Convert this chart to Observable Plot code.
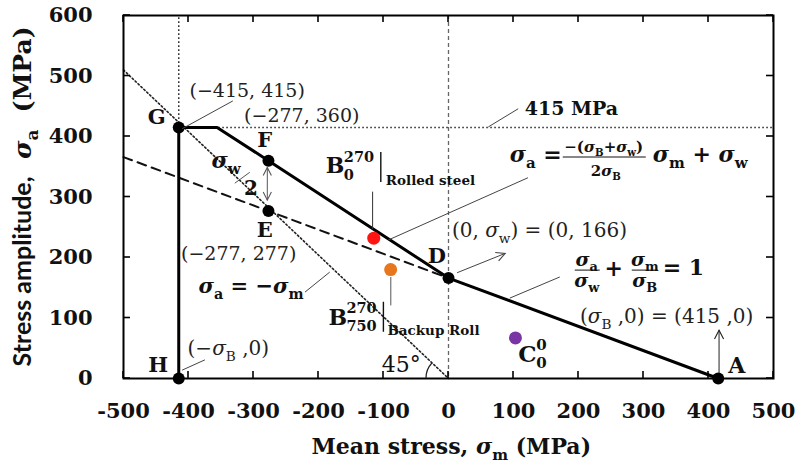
<!DOCTYPE html>
<html><head><meta charset="utf-8">
<script src="https://cdn.jsdelivr.net/npm/d3@7"></script>
<script src="https://cdn.jsdelivr.net/npm/@observablehq/plot@0.6"></script>
<style>body{margin:0;background:#fff}</style>
</head><body>
<script>
const SERIF = "DejaVu Serif";
const SANS = "Lato";

// ---- data ----
const xTicks = [-500, -400, -300, -200, -100, 0, 100, 200, 300, 400, 500];
const yTicks = [0, 100, 200, 300, 400, 500, 600];
const sigmaB = 415, sigmaW = 166, yieldAmp = 415;

const keyNames = ["G", "F", "E", "D", "A", "H"];
const keyMean  = [-415, -277, -277, 0, 415, -415];
const keyAmp   = [415, 360, 277, 166, 0, 0];

const envMean = [-415, -415, -356, -277, 0, 415];
const envAmp  = [0, 415, 415, 360, 166, 0];

const halfMean = [-500, 0];
const halfAmp  = [366, 166];

const diagMean = [-500, 0];
const diagAmp  = [510, 0];

const specNames = ["B0^270 Rolled steel", "B750^270 Backup Roll", "C0^0"];
const specMean  = [-115, -89, 103];
const specAmp   = [232, 180, 67];
const specColor = ["#ff1414", "#e8761c", "#7a35a5"];

const keyPts = keyNames.map((n, i) => ({n, m: keyMean[i], a: keyAmp[i]}));
const envelope = envMean.map((m, i) => ({m, a: envAmp[i]}));
const halfLine = halfMean.map((m, i) => ({m, a: halfAmp[i]}));
const diagLine = diagMean.map((m, i) => ({m, a: diagAmp[i]}));
const specs = specNames.map((n, i) => ({n, m: specMean[i], a: specAmp[i], c: specColor[i]}));

// ---- helpers ----
const sg = {t: "σ", it: true};
const sub = t => ({t, sub: true});

function txt(g, x, y, parts, o = {}) {
  const size = o.size || 20;
  const t = g.append("text").attr("x", x).attr("y", y)
    .attr("font-family", o.family || SERIF).attr("font-size", size)
    .attr("font-weight", o.weight || "bold").attr("fill", o.fill || "#111")
    .attr("text-anchor", o.anchor || "start");
  let shift = 0;
  for (const p of parts) {
    const s = typeof p === "string" ? {t: p} : p;
    const target = s.sub ? size * 0.28 : s.sup ? -size * 0.42 : 0;
    const ts = t.append("tspan").text(s.t);
    if (target - shift) ts.attr("dy", target - shift);
    if (s.sub || s.sup) ts.attr("font-size", size * 0.68);
    if (s.it) ts.attr("font-style", "italic");
    if (s.family) ts.attr("font-family", s.family);
    shift = target;
  }
  return t;
}
function seg(g, x1, y1, x2, y2, o = {}) {
  return g.append("line").attr("x1", x1).attr("y1", y1).attr("x2", x2).attr("y2", y2)
    .attr("stroke", o.stroke || "#444").attr("stroke-width", o.width || 1);
}
function head(g, x1, y1, x2, y2, o) {
  const L = o.head || 10, ang = (o.angle || 27) * Math.PI / 180;
  const th = Math.atan2(y2 - y1, x2 - x1);
  const p = [[x2 - L * Math.cos(th - ang), y2 - L * Math.sin(th - ang)], [x2, y2],
             [x2 - L * Math.cos(th + ang), y2 - L * Math.sin(th + ang)]];
  g.append("path").attr("d", "M" + p.join("L")).attr("fill", "none")
    .attr("stroke", o.stroke || "#333").attr("stroke-width", o.width || 1.1);
}
function arrow(g, x1, y1, x2, y2, o = {}) {
  seg(g, x1, y1, x2, y2, o);
  head(g, x1, y1, x2, y2, o);
  if (o.both) head(g, x2, y2, x1, y1, o);
}

function ticks(index, {x: X, y: Y}) {
  const g = d3.create("svg:g");
  for (const v of xTicks) {
    seg(g, X(v), Y(0), X(v), Y(0) - 7, {stroke: "#000", width: 1.6});
    seg(g, X(v), Y(600), X(v), Y(600) + 7, {stroke: "#000", width: 1.6});
  }
  for (const v of yTicks) {
    seg(g, X(-500), Y(v), X(-500) + 7, Y(v), {stroke: "#000", width: 1.6});
    seg(g, X(500), Y(v), X(500) - 7, Y(v), {stroke: "#000", width: 1.6});
  }
  return g.node();
}

function annotations(index, {x: X, y: Y}, values, dim) {
  const g = d3.create("svg:g");
  const at = (m, a) => [X(m), Y(a)];
  const L = (p, q, o) => seg(g, p[0], p[1], q[0], q[1], o);

  // G
  txt(g, X(-448), Y(420), ["G"], {anchor: "middle", size: 21});
  txt(g, X(-309), Y(464), ["(−415, 415)"], {anchor: "middle", size: 19, weight: "normal", fill: "#222"});
  L(at(-409, 412), at(-331, 458));
  txt(g, X(-225), Y(423), ["(−277, 360)"], {anchor: "middle", size: 19, weight: "normal", fill: "#222"});
  // F, E
  txt(g, X(-282), Y(382), ["F"], {anchor: "middle", size: 21});
  txt(g, X(-282), Y(233), ["E"], {anchor: "middle", size: 21});
  txt(g, X(-322), Y(195), ["(−277, 277)"], {anchor: "middle", size: 19, weight: "normal", fill: "#222"});
  // sigma_w / 2
  txt(g, X(-364), Y(347), [sg, sub("w")], {size: 22});
  L(at(-328, 322), at(-305, 340), {stroke: "#555"});
  txt(g, X(-303), Y(302), ["2"], {anchor: "middle", size: 20});
  arrow(g, X(-278), Y(348), X(-278), Y(294), {both: true, stroke: "#555", head: 9});
  // sigma_a = -sigma_m
  txt(g, X(-303), Y(140), [sg, sub("a"), " = −", sg, sub("m")], {anchor: "middle", size: 21});
  L(at(-220, 142), at(-182, 175));
  // B0^270 | Rolled steel
  {
    const [bx, by] = at(-188, 339);
    txt(g, bx, by, ["B"], {size: 22});
    txt(g, bx + 18, by - 11, ["270"], {size: 14.5});
    txt(g, bx + 18, by + 7, ["0"], {size: 14.5});
    seg(g, bx + 55, by - 21, bx + 55, by + 9, {stroke: "#111", width: 1.4});
    txt(g, bx + 60, by + 12, ["Rolled steel"], {size: 13.5});
    L(at(-116, 308), at(-116, 246), {stroke: "#333"});
  }
  // equation 1
  {
    const [x0, y0] = at(95, 357);
    txt(g, x0, y0, [sg, sub("a"), " ="], {size: 22});
    txt(g, x0 + 94, y0 - 10, ["−(", sg, sub("B"), "+", sg, sub("w"), ")"], {anchor: "middle", size: 15});
    seg(g, x0 + 53, y0 - 5, x0 + 136, y0 - 5, {stroke: "#111", width: 1});
    txt(g, x0 + 96, y0 + 14, ["2", sg, sub("B")], {anchor: "middle", size: 15});
    txt(g, x0 + 143, y0, [sg, sub("m"), " + ", sg, sub("w")], {size: 22});
    L(at(123, 331), at(-92, 228));
  }
  // 415 MPa
  txt(g, X(118), Y(435), ["415 MPa"], {size: 19});
  L(at(62, 415), at(108, 445));
  // (0, sigma_w) = (0, 166)
  txt(g, X(6), Y(233), ["(0, ", sg, sub("w"), ") = (0, 166)"], {size: 20, weight: "normal", fill: "#222"});
  arrow(g, X(14), Y(174), X(88), Y(206), {stroke: "#444"});
  txt(g, X(-17), Y(190), ["D"], {anchor: "middle", size: 21});
  // equation 2
  {
    const [x0, y0] = at(195, 180);
    txt(g, x0 + 12, y0 - 3, [sg, sub("a")], {anchor: "middle", size: 19});
    seg(g, x0, y0 + 1, x0 + 25, y0 + 1, {stroke: "#111"});
    txt(g, x0 + 12, y0 + 18, [sg, sub("w")], {anchor: "middle", size: 19});
    txt(g, x0 + 39, y0 + 7, ["+"], {anchor: "middle", size: 22});
    txt(g, x0 + 70, y0 - 3, [sg, sub("m")], {anchor: "middle", size: 19});
    seg(g, x0 + 57, y0 + 1, x0 + 83, y0 + 1, {stroke: "#111"});
    txt(g, x0 + 70, y0 + 18, [sg, sub("B")], {anchor: "middle", size: 19});
    txt(g, x0 + 88, y0 + 6, ["= 1"], {size: 22});
    L(at(95, 132), at(172, 167));
  }
  // (sigma_B, 0) = (415, 0)
  txt(g, X(203), Y(91), ["(", sg, sub("B"), " ,0) = (415 ,0)"], {size: 20, weight: "normal", fill: "#222"});
  arrow(g, X(417), Y(8), X(417), Y(79), {stroke: "#222"});
  txt(g, X(431), Y(8), ["A"], {size: 22});
  // C0^0
  {
    const [cx, cy] = at(108, 26);
    txt(g, cx, cy, ["C"], {size: 23});
    txt(g, cx + 18, cy - 12, ["0"], {size: 15});
    txt(g, cx + 18, cy + 6, ["0"], {size: 15});
  }
  // B750^270 | Backup Roll
  {
    const [bx, by] = at(-184, 88);
    txt(g, bx, by, ["B"], {size: 22});
    txt(g, bx + 18, by - 12, ["270"], {size: 14.5});
    txt(g, bx + 18, by + 6, ["750"], {size: 14.5});
    seg(g, bx + 55, by - 23, bx + 55, by + 7, {stroke: "#111", width: 1.4});
    txt(g, bx + 59, by + 10, ["Backup Roll"], {size: 13.5});
    L(at(-88, 167), at(-88, 120), {stroke: "#555"});
  }
  // 45 degrees
  txt(g, X(-102), Y(10), ["45°"], {size: 22, weight: "normal"});
  {
    const ox = X(0), oy = Y(0), r = 22;
    const dx = X(-100) - ox, dy = Y(100) - oy, len = Math.hypot(dx, dy);
    g.append("path").attr("d", `M${ox - r},${oy}A${r},${r} 0 0 1 ${ox + r * dx / len},${oy + r * dy / len}`)
      .attr("fill", "none").attr("stroke", "#222").attr("stroke-width", 1.2);
  }
  // H
  txt(g, X(-446), Y(10), ["H"], {anchor: "middle", size: 21});
  txt(g, X(-338), Y(38), ["(−", sg, sub("B"), " ,0)"], {anchor: "middle", size: 20, weight: "normal", fill: "#222"});
  L(at(-409, 13), at(-374, 30));

  // axis titles
  txt(g, X(5), dim.height - 14, ["Mean stress, ", sg, sub("m"), " (MPa)"], {anchor: "middle", size: 22});
  const yt = g.append("g").attr("transform", `translate(31,${Y(300)})rotate(-90)`);
  txt(yt, 0, 0, [{t: "Stress amplitude,", family: SANS}, "  ", sg, sub("a"), "  (MPa)"], {anchor: "middle", size: 25});
  return g.node();
}

const chart = Plot.plot({
  width: 798,
  height: 468,
  marginLeft: 123,
  marginRight: 25,
  marginTop: 15,
  marginBottom: 90,
  x: {domain: [-500, 500]},
  y: {domain: [0, 600]},
  color: {type: "identity"},
  style: {fontFamily: SERIF, fontSize: "21px", fontWeight: "bold", color: "#111", background: "#fff"},
  marks: [
    Plot.axisX({ticks: xTicks, tickSize: 0, tickPadding: 25, tickFormat: d => String(d), label: null, fontSize: 21, fontWeight: "bold"}),
    Plot.axisY({ticks: yTicks, tickSize: 0, tickPadding: 31, tickFormat: d => String(d), label: null, fontSize: 21, fontWeight: "bold"}),
    Plot.ruleX([0], {stroke: "#666", strokeWidth: 1.3, strokeDasharray: "4,3"}),
    Plot.ruleX([-sigmaB], {y1: yieldAmp, y2: 600, stroke: "#333", strokeWidth: 1.5, strokeDasharray: "1.6,2.4"}),
    Plot.ruleY([yieldAmp], {x1: -sigmaB, x2: 500, stroke: "#333", strokeWidth: 1.5, strokeDasharray: "1.6,2.4"}),
    Plot.line(diagLine, {x: "m", y: "a", stroke: "#222", strokeWidth: 1.6, strokeDasharray: "1.6,2.4"}),
    Plot.line(halfLine, {x: "m", y: "a", stroke: "#111", strokeWidth: 2, strokeDasharray: "9,6"}),
    Plot.line(envelope, {x: "m", y: "a", stroke: "#000", strokeWidth: 3}),
    Plot.dot(keyPts, {x: "m", y: "a", r: 6, fill: "#000"}),
    Plot.dot(specs, {x: "m", y: "a", r: 6.5, fill: "c"}),
    Plot.frame({stroke: "#000", strokeWidth: 2}),
    ticks,
    annotations
  ]
});
document.body.appendChild(chart);
</script>
</body></html>
